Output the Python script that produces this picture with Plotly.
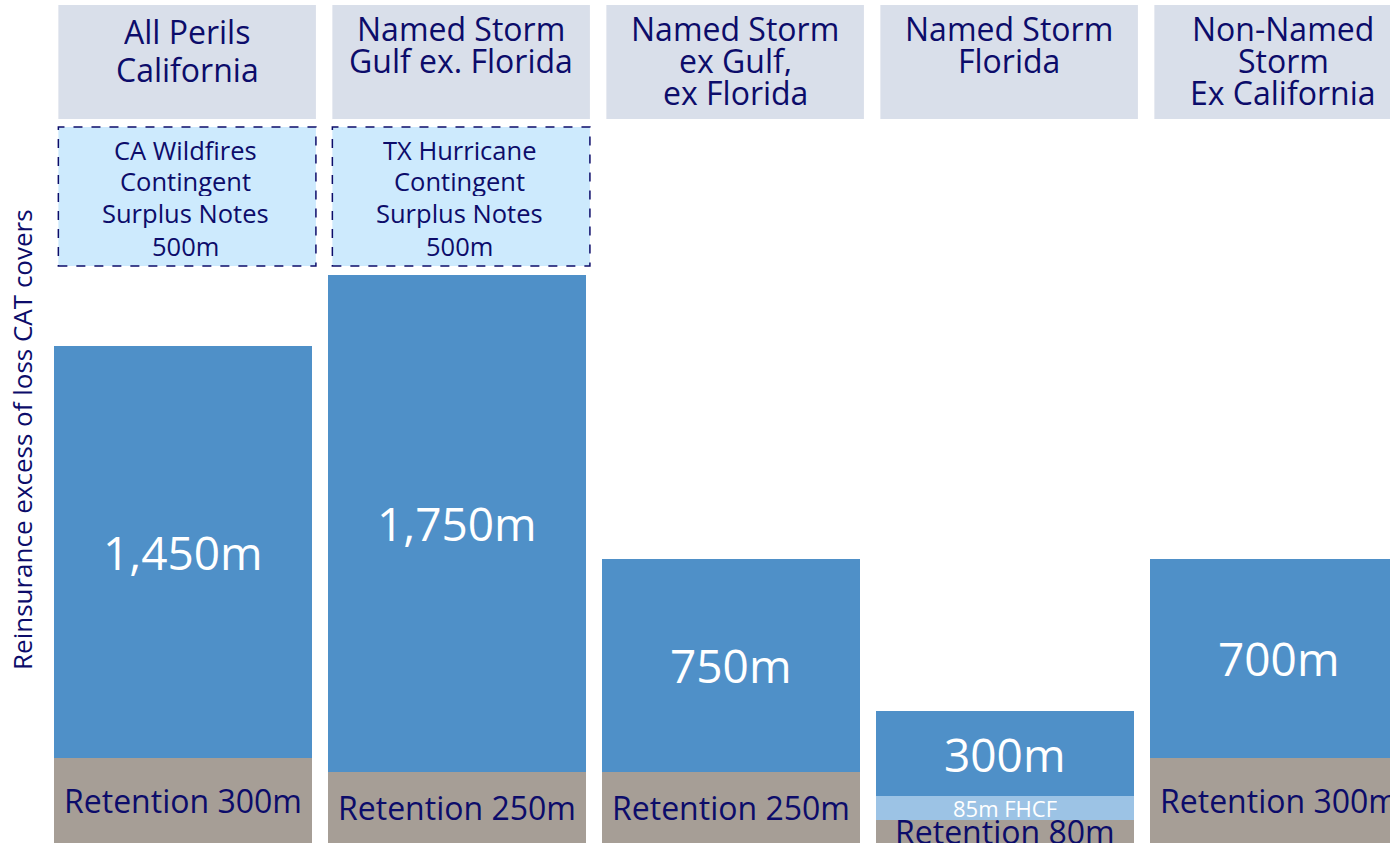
import plotly.graph_objects as go

# Programme layers per peril region (USD millions)
regions = [
    ["All Perils", "California"],
    ["Named Storm", "Gulf ex. Florida"],
    ["Named Storm", "ex Gulf,", "ex Florida"],
    ["Named Storm", "Florida"],
    ["Non-Named", "Storm", "Ex California"],
]
retention = [300, 250, 250, 80, 300]
fhcf = [None, None, None, 85, None]
cat_cover = [1450, 1750, 750, 300, 700]
surplus_notes = [["CA Wildfires", "Contingent", "Surplus Notes", "500m"],
                 ["TX Hurricane", "Contingent", "Surplus Notes", "500m"],
                 None, None, None]

NAVY = "#0c0c6a"
BLUE = "#4f90c8"
LIGHT_BLUE = "#9cc3e5"
TAUPE = "#a69e96"
HEADER_FILL = "#d9dfea"
NOTE_FILL = "#cdeafd"
FONT = "Open Sans"
H = 843.0

x = list(range(len(regions)))
bar_w = 0.94

fig = go.Figure()
fig.add_bar(x=x, y=retention, width=bar_w, marker=dict(color=TAUPE, line=dict(width=0)),
            hoverinfo="skip")
fig.add_bar(x=x, y=fhcf, width=bar_w, marker=dict(color=LIGHT_BLUE, line=dict(width=0)),
            hoverinfo="skip")
fig.add_bar(x=x, y=cat_cover, width=bar_w, marker=dict(color=BLUE, line=dict(width=0)),
            hoverinfo="skip")

ann = []
shapes = []


def text_lines(lines, xc, first_px, pitch_px, size):
    """Stack lines of text from a top pixel position with a fixed line pitch."""
    for k, line in enumerate(lines):
        ann.append(dict(x=xc, y=1 - (first_px + k * pitch_px) / H, xref="x", yref="paper",
                        xanchor="center", yanchor="middle", showarrow=False, text=line,
                        height=int(pitch_px) - 1, valign="middle",
                        font=dict(family=FONT, size=size, color=NAVY)))


header_pitch = [38, 32.5, 32.5, 32.5, 32.5]
header_first = [32, 28, 28, 28, 28]

for i in x:
    base = retention[i]
    ann.append(dict(x=i, y=base / 2, xref="x", yref="y", showarrow=False,
                    xanchor="center", yanchor="middle",
                    text=f"Retention {retention[i]}m",
                    font=dict(family=FONT, size=32, color=NAVY)))
    if fhcf[i]:
        ann.append(dict(x=i, y=base + fhcf[i] / 2, xref="x", yref="y", showarrow=False,
                        xanchor="center", yanchor="middle", height=22,
                        text=f"{fhcf[i]}m FHCF",
                        font=dict(family=FONT, size=22, color="white")))
        base += fhcf[i]
    ann.append(dict(x=i, y=base + cat_cover[i] / 2, xref="x", yref="y", showarrow=False,
                    xanchor="center", yanchor="middle",
                    text=f"{cat_cover[i]:,}m",
                    font=dict(family=FONT, size=46, color="white")))

    # region header box
    hx = i + 0.015
    shapes.append(dict(type="rect", xref="x", yref="paper",
                       x0=hx - bar_w / 2, x1=hx + bar_w / 2, y0=1 - 119 / H, y1=1 - 5 / H,
                       fillcolor=HEADER_FILL, line=dict(width=0), layer="below"))
    text_lines(regions[i], hx, header_first[i], header_pitch[i], 32)

    # contingent surplus notes box
    if surplus_notes[i]:
        shapes.append(dict(type="rect", xref="x", yref="paper",
                           x0=hx - bar_w / 2, x1=hx + bar_w / 2,
                           y0=1 - 266 / H, y1=1 - 127 / H,
                           fillcolor=NOTE_FILL,
                           line=dict(color=NAVY, width=1.5, dash="dash")))
        text_lines(surplus_notes[i], hx - 0.005, 149, 32, 25.5)

ann.append(dict(x=22 / 1390, y=1 - 440 / H, xref="paper", yref="paper",
                xanchor="center", yanchor="middle",
                showarrow=False, textangle=-90,
                text="Reinsurance excess of loss CAT covers",
                font=dict(family=FONT, size=26, color=NAVY)))

fig.update_layout(
    width=1390, height=843,
    margin=dict(l=0, r=0, t=0, b=0),
    barmode="stack", showlegend=False,
    plot_bgcolor="white", paper_bgcolor="white",
    xaxis=dict(visible=False, range=[-0.668, 4.405]),
    yaxis=dict(visible=False, range=[0, 2968]),
    annotations=ann, shapes=shapes,
)

fig.write_html("out.html")
